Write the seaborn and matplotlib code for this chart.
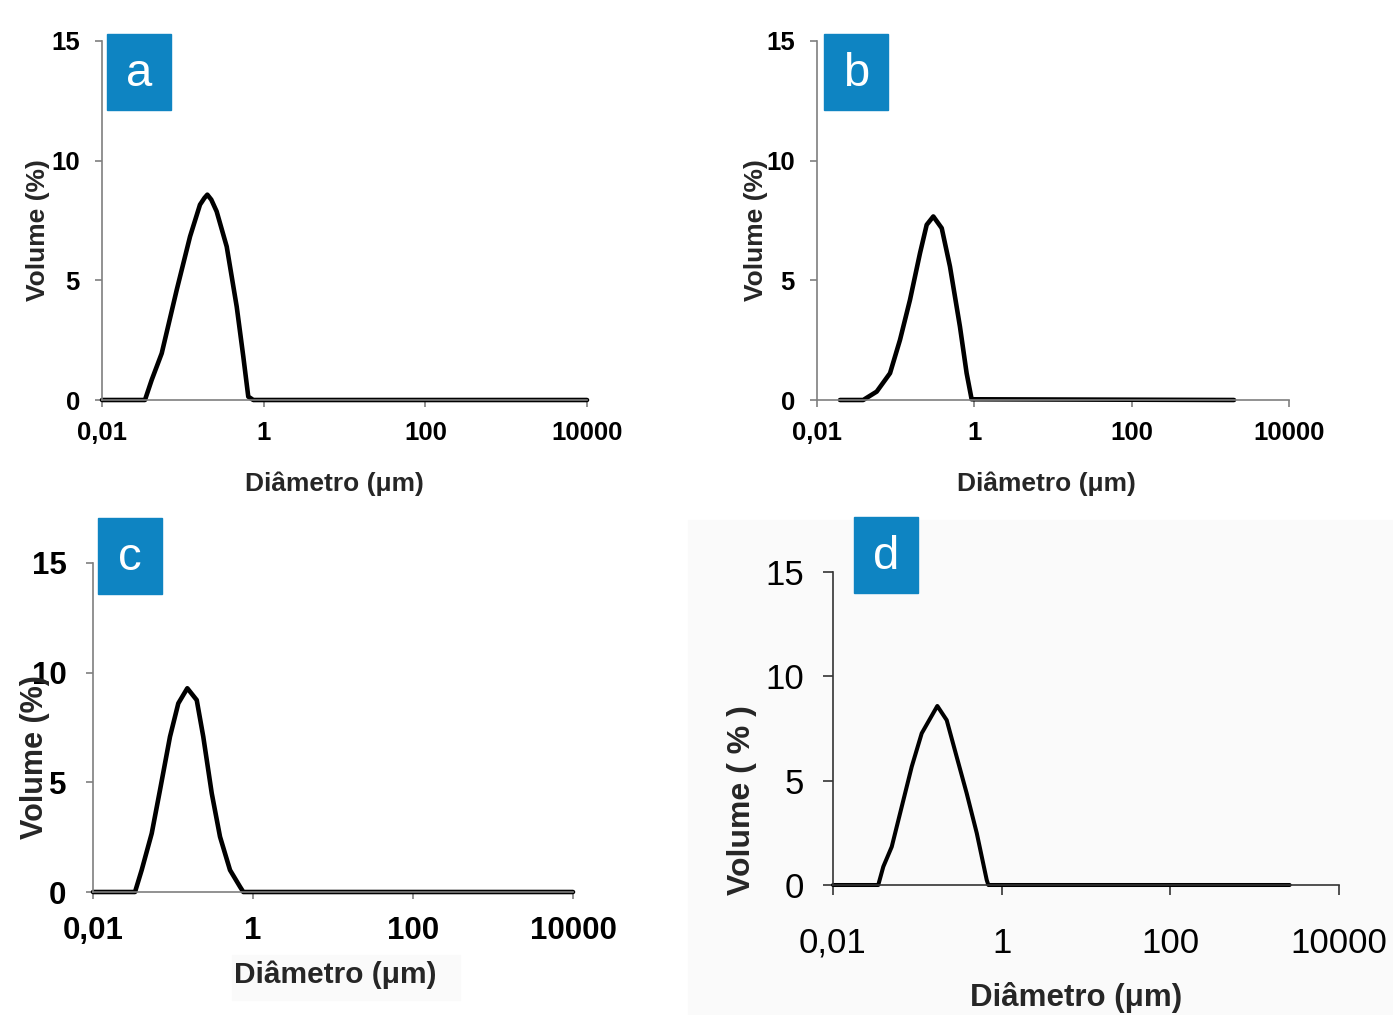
import numpy as np
import pandas as pd
import matplotlib.pyplot as plt
import seaborn as sns
from matplotlib.patches import Rectangle

# Dados (diâmetro em µm, volume em %)
diam_a = [0.01, 0.034, 0.0412, 0.0548, 0.084, 0.1228, 0.163, 0.185, 0.201, 0.225, 0.262, 0.349, 0.464, 0.56, 0.645, 0.745, 10000]
vol_a = [0, 0, 0.84, 1.95, 4.6, 6.83, 8.16, 8.44, 8.58, 8.37, 7.88, 6.41, 3.9, 1.81, 0.14, 0, 0]

diam_b = [0.0196, 0.0387, 0.0574, 0.0848, 0.1135, 0.152, 0.204, 0.248, 0.301, 0.385, 0.49, 0.656, 0.798, 0.924, 2000]
vol_b = [0, 0, 0.35, 1.12, 2.51, 4.18, 6.14, 7.32, 7.67, 7.18, 5.58, 3.07, 1.12, 0.03, 0]

diam_c = [0.01, 0.0335, 0.0406, 0.0542, 0.0688, 0.0917, 0.1165, 0.151, 0.198, 0.239, 0.305, 0.387, 0.516, 0.688, 0.757, 10000]
vol_c = [0, 0, 1.0, 2.67, 4.65, 7.08, 8.6, 9.29, 8.75, 7.08, 4.5, 2.52, 1.0, 0.24, 0, 0]

diam_d = [0.01, 0.0344, 0.0395, 0.0497, 0.0653, 0.0858, 0.1127, 0.1726, 0.223, 0.293, 0.385, 0.507, 0.665, 0.695, 2600]
vol_d = [0, 0, 0.88, 1.83, 3.75, 5.67, 7.27, 8.58, 7.9, 6.14, 4.39, 2.48, 0.24, 0, 0]

letras = ["a", "b", "c", "d"]
xticks = [0.01, 1, 100, 10000]
xticklabels = ["0,01", "1", "100", "10000"]
yticks = [0, 5, 10, 15]

sns.set_style("white")
plt.rcParams["font.family"] = ["Liberation Sans", "DejaVu Sans"]
fam = ["Liberation Sans", "DejaVu Sans"]

W, H = 1393, 1015
fig = plt.figure(figsize=(W / 100, H / 100), dpi=100)

# fundo levemente cinza do painel d e do rótulo do painel c
fig.patches.append(Rectangle((688 / W, 0), (W - 688) / W, (H - 520) / H,
                             transform=fig.transFigure, color="#fafafa", zorder=-1))
fig.patches.append(Rectangle((232 / W, (H - 1000) / H), 228 / W, 45 / H,
                             transform=fig.transFigure, color="#fafafa", zorder=-1))


def painel(px, dados, letra, caixa, fs, xfs, yfs, peso, lw, ylab_pos, xlab_pos,
           xpad, ypad, tlen, cor_eixo, ylabel):
    l, r, t, b = px
    ax = fig.add_axes([l / W, (H - b) / H, (r - l) / W, (b - t) / H])
    ax.patch.set_alpha(0)
    df = pd.DataFrame({"Diâmetro": dados[0], "Volume": dados[1]})
    sns.lineplot(data=df, x="Diâmetro", y="Volume", ax=ax, color="black",
                 linewidth=lw, solid_joinstyle="round", solid_capstyle="round")
    ax.set_xscale("log")
    ax.set_xlim(0.01, 10000)
    ax.set_ylim(0, 15)
    ax.set_xticks(xticks)
    ax.set_xticklabels(xticklabels)
    ax.xaxis.set_minor_locator(plt.NullLocator())
    ax.set_yticks(yticks)
    for s in ["top", "right"]:
        ax.spines[s].set_visible(False)
    for s in ["left", "bottom"]:
        ax.spines[s].set_color(cor_eixo)
        ax.spines[s].set_linewidth(1.2)
    ax.tick_params(axis="both", direction="out", length=tlen, width=1.2,
                   color=cor_eixo, labelsize=fs, left=True, bottom=True)
    ax.tick_params(axis="x", pad=xpad)
    ax.tick_params(axis="y", pad=ypad)
    for lab in ax.get_xticklabels() + ax.get_yticklabels():
        lab.set_fontweight(peso)
        lab.set_family(fam)
        lab.set_color("black")
    ax.set_xlabel("Diâmetro (μm)", fontsize=xfs, fontweight="bold")
    ax.set_ylabel(ylabel, fontsize=yfs, fontweight="bold")
    ax.xaxis.set_label_coords(*xlab_pos)
    ax.yaxis.set_label_coords(*ylab_pos)
    for ln in ax.lines:
        ln.set_clip_on(False)
    # caixa azul com a letra
    x0, y0, x1, y1 = caixa
    fig.patches.append(Rectangle((x0 / W, (H - y1) / H), (x1 - x0) / W, (y1 - y0) / H,
                                 transform=fig.transFigure, color="#0e84c2", zorder=3))
    fig.text((x0 + x1) / 2 / W, (H - (y0 + y1) / 2 - 2) / H, letra, color="white",
             fontsize=34, ha="center", va="center", zorder=4)
    return ax


painel((102, 587, 41, 400), (diam_a, vol_a), "a", (107, 34, 171, 110),
       18.5, 19, 19, "bold", 3.3, (-0.107, 0.474), (0.48, -0.2), 10, 11, 5,
       "#7f7f7f", "Volume (%)")
painel((817, 1289, 41, 400), (diam_b, vol_b), "b", (824, 34, 888, 110),
       18.5, 19, 19, "bold", 3.3, (-0.104, 0.474), (0.487, -0.2), 10, 11, 5,
       "#7f7f7f", "Volume (%)")
painel((93, 573, 563, 892), (diam_c, vol_c), "c", (98, 518, 162, 594),
       22.5, 21.5, 22, "bold", 3.3, (-0.09, 0.41), (0.504, -0.207), 12, 14, 5,
       "#7f7f7f", "Volume (%)")
painel((833, 1339, 572, 885), (diam_d, vol_d), "d", (854, 517, 918, 593),
       25, 22.5, 23, "normal", 2.9, (-0.15, 0.27), (0.48, -0.31), 23, 14, 7,
       "#333333", "Volume ( % )")

fig.savefig("out.png", dpi=100)
